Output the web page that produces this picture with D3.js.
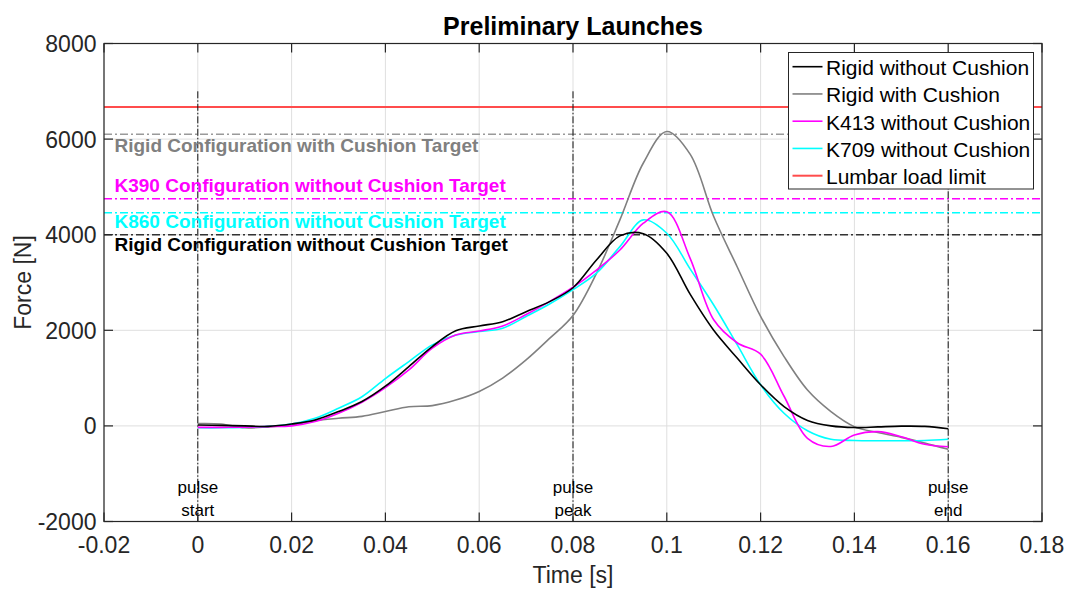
<!DOCTYPE html>
<html>
<head>
<meta charset="utf-8">
<script src="https://cdn.jsdelivr.net/npm/d3@7"></script>
<style>
  html, body { margin: 0; padding: 0; background: #fff; }
  svg { display: block; font-family: "Liberation Sans", Arial, Helvetica, sans-serif; }
</style>
</head>
<body>
<svg id="chart" width="1070" height="590"></svg>
<script>
// ---- data ----------------------------------------------------------------
const time = [0, 0.005, 0.01, 0.015, 0.02, 0.025, 0.03, 0.035, 0.04, 0.045, 0.05,
  0.055, 0.06, 0.065, 0.07, 0.075, 0.08, 0.085, 0.09, 0.095, 0.1, 0.105, 0.11,
  0.115, 0.12, 0.125, 0.13, 0.135, 0.14, 0.145, 0.15, 0.155, 0.16];

const rigidNoCushion = [20, 10, 0, -10, 40, 125, 300, 510, 830, 1240, 1660,
  1990, 2090, 2180, 2390, 2600, 2890, 3470, 3975, 4020, 3610, 2750, 2000,
  1420, 860, 404, 115, 0, -35, -20, -5, -10, -60];

const rigidCushion = [50, 40, -40, -20, 20, 110, 160, 200, 300, 400, 425,
  540, 720, 1000, 1380, 1830, 2310, 3190, 4310, 5500, 6160, 5680, 4380,
  3330, 2290, 1450, 750, 300, -15, -140, -240, -360, -490];

const k413NoCushion = [-30, -30, -25, -15, 0, 90, 265, 495, 800, 1170, 1625,
  1900, 1985, 2090, 2330, 2600, 2900, 3260, 3680, 4240, 4480, 3500, 2220,
  1740, 1500, 620, -260, -430, -190, -120, -225, -385, -435];

const k709NoCushion = [-40, -40, -30, -10, 40, 160, 370, 610, 990, 1345, 1695,
  1900, 1975, 2045, 2290, 2550, 2850, 3195, 3750, 4310, 4030, 3280, 2530,
  1700, 860, 265, -100, -280, -305, -310, -310, -305, -280];

const seriesNames = ["Rigid without Cushion", "Rigid with Cushion",
  "K413 without Cushion", "K709 without Cushion", "Lumbar load limit"];
const seriesColors = ["#000000", "#808080", "#ff00ff", "#00ffff", "#ff4c4c"];

const lumbarLimit = 6670;

const targetValues = [6100, 4750, 4460, 4000];
const targetLabels = ["Rigid Configuration with Cushion Target",
  "K390 Configuration without Cushion Target",
  "K860 Configuration without Cushion Target",
  "Rigid Configuration without Cushion Target"];
const targetLineColors = ["#9a9a9a", "#ff00ff", "#00ffff", "#333333"];
const targetTextColors = ["#808080", "#ff00ff", "#00ffff", "#000000"];

const pulseTimes = [0, 0.08, 0.16];
const pulseLabels = [["pulse", "start"], ["pulse", "peak"], ["pulse", "end"]];
const pulseTop = 7000;

const xTicks = [-0.02, 0, 0.02, 0.04, 0.06, 0.08, 0.1, 0.12, 0.14, 0.16, 0.18];
const xTickLabels = ["-0.02", "0", "0.02", "0.04", "0.06", "0.08", "0.1", "0.12", "0.14", "0.16", "0.18"];
const yTicks = [-2000, 0, 2000, 4000, 6000, 8000];
const yTickLabels = ["-2000", "0", "2000", "4000", "6000", "8000"];

// ---- layout ----------------------------------------------------------------
const L = 104, R = 1042, T = 43.5, B = 521.5;
const axisColor = "#262626";
const gridColor = "#dfdfdf";
const tickLen = 9;

const svg = d3.select("#chart");
const x = d3.scaleLinear().domain([-0.02, 0.18]).range([L, R]);
const y = d3.scaleLinear().domain([-2000, 8000]).range([B, T]);

svg.append("defs").append("clipPath").attr("id", "plot-clip")
  .append("rect").attr("x", L).attr("y", T).attr("width", R - L).attr("height", B - T);

// grid
const grid = svg.append("g");
grid.selectAll("line.gx").data(xTicks).join("line")
  .attr("x1", d => x(d)).attr("x2", d => x(d)).attr("y1", T).attr("y2", B)
  .attr("stroke", gridColor).attr("stroke-width", 1);
grid.selectAll("line.gy").data(yTicks).join("line")
  .attr("x1", L).attr("x2", R).attr("y1", d => y(d)).attr("y2", d => y(d))
  .attr("stroke", gridColor).attr("stroke-width", 1);

const plot = svg.append("g").attr("clip-path", "url(#plot-clip)");
const dashDot = "8,3,2,3";

// lumbar load limit
plot.append("line")
  .attr("x1", L).attr("x2", R).attr("y1", y(lumbarLimit)).attr("y2", y(lumbarLimit))
  .attr("stroke", seriesColors[4]).attr("stroke-width", 2);

// target lines
plot.selectAll("line.target").data(targetValues).join("line")
  .attr("x1", L).attr("x2", R).attr("y1", d => y(d)).attr("y2", d => y(d))
  .attr("stroke", (d, i) => targetLineColors[i]).attr("stroke-width", 1.5)
  .attr("stroke-dasharray", dashDot);

// pulse markers
plot.selectAll("line.pulse").data(pulseTimes).join("line")
  .attr("x1", d => x(d)).attr("x2", d => x(d))
  .attr("y1", y(pulseTop)).attr("y2", B)
  .attr("stroke", "#111").attr("stroke-width", 1)
  .attr("stroke-dasharray", "7,2,1.5,2");

// force curves
const seriesData = [rigidNoCushion, rigidCushion, k413NoCushion, k709NoCushion];
const line = d3.line()
  .x((d, i) => x(time[i]))
  .y(d => y(d))
  .curve(d3.curveCatmullRom.alpha(0.5));
const drawOrder = [1, 3, 2, 0];
drawOrder.forEach(k => {
  plot.append("path")
    .attr("d", line(seriesData[k]))
    .attr("fill", "none")
    .attr("stroke", seriesColors[k])
    .attr("stroke-width", 1.6);
});

// target labels
const targetTextY = [151.7, 191.7, 228.3, 250.7];
svg.selectAll("text.target").data(targetLabels).join("text")
  .attr("x", L + 10.5)
  .attr("y", (d, i) => targetTextY[i])
  .attr("fill", (d, i) => targetTextColors[i])
  .attr("font-size", 19).attr("font-weight", "bold")
  .text(d => d);

// pulse labels
pulseTimes.forEach((t, i) => {
  svg.append("text").attr("x", x(t)).attr("y", 492.5)
    .attr("text-anchor", "middle").attr("font-size", 17).attr("fill", "#000")
    .text(pulseLabels[i][0]);
  svg.append("text").attr("x", x(t)).attr("y", 515.5)
    .attr("text-anchor", "middle").attr("font-size", 17).attr("fill", "#000")
    .text(pulseLabels[i][1]);
});

// axes box and ticks
const ax = svg.append("g").attr("stroke", axisColor).attr("stroke-width", 1.2);
ax.append("rect").attr("x", L).attr("y", T).attr("width", R - L).attr("height", B - T)
  .attr("fill", "none");
xTicks.forEach(t => {
  ax.append("line").attr("x1", x(t)).attr("x2", x(t)).attr("y1", B).attr("y2", B - tickLen);
  ax.append("line").attr("x1", x(t)).attr("x2", x(t)).attr("y1", T).attr("y2", T + tickLen);
});
yTicks.forEach(v => {
  ax.append("line").attr("x1", L).attr("x2", L + tickLen).attr("y1", y(v)).attr("y2", y(v));
  ax.append("line").attr("x1", R).attr("x2", R - tickLen).attr("y1", y(v)).attr("y2", y(v));
});

svg.selectAll("text.xtick").data(xTicks).join("text")
  .attr("x", d => x(d)).attr("y", 552.5)
  .attr("text-anchor", "middle").attr("font-size", 23).attr("fill", axisColor)
  .text((d, i) => xTickLabels[i]);
svg.selectAll("text.ytick").data(yTicks).join("text")
  .attr("x", L - 7.5).attr("y", d => y(d) + 8.5)
  .attr("text-anchor", "end").attr("font-size", 23).attr("fill", axisColor)
  .text((d, i) => yTickLabels[i]);

// axis titles
svg.append("text").attr("x", (L + R) / 2).attr("y", 582.5)
  .attr("text-anchor", "middle").attr("font-size", 23).attr("fill", axisColor)
  .text("Time [s]");
svg.append("text")
  .attr("transform", `translate(30.5,${(T + B) / 2}) rotate(-90)`)
  .attr("text-anchor", "middle").attr("font-size", 23).attr("fill", axisColor)
  .text("Force [N]");
svg.append("text").attr("x", (L + R) / 2).attr("y", 35)
  .attr("text-anchor", "middle").attr("font-size", 25).attr("font-weight", "bold")
  .attr("fill", "#000").text("Preliminary Launches");

// legend
const lg = svg.append("g");
lg.append("rect").attr("x", 788.5).attr("y", 52.5).attr("width", 245).attr("height", 136.5)
  .attr("fill", "#fff").attr("stroke", axisColor).attr("stroke-width", 1);
seriesNames.forEach((name, i) => {
  const cy = 66.7 + i * 27.25;
  lg.append("line").attr("x1", 792.5).attr("x2", 822.5).attr("y1", cy).attr("y2", cy)
    .attr("stroke", seriesColors[i]).attr("stroke-width", i === 4 ? 2 : 1.6);
  lg.append("text").attr("x", 826).attr("y", cy + 8.5)
    .attr("font-size", 21).attr("fill", "#000").text(name);
});
</script>
</body>
</html>
